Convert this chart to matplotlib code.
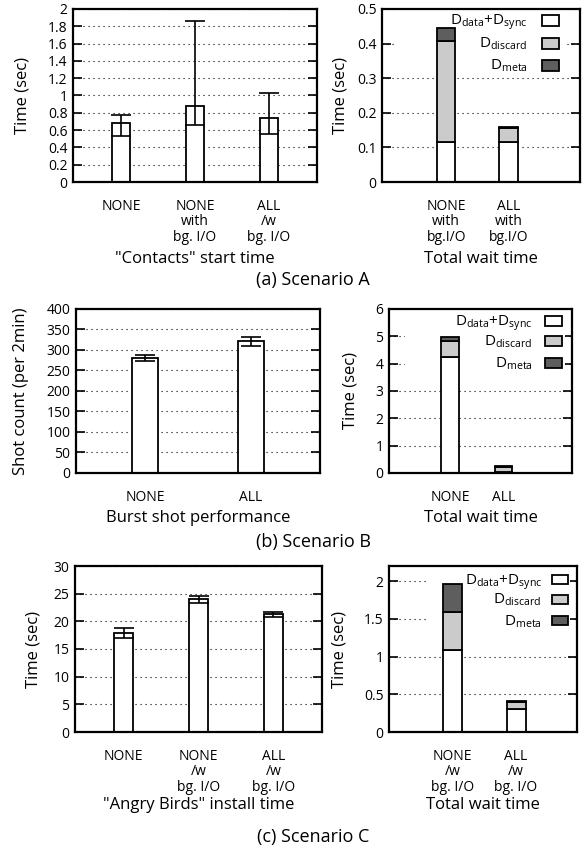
import numpy as np
import matplotlib
matplotlib.use("Agg")
import matplotlib.pyplot as plt
from matplotlib.patches import Rectangle
from matplotlib.ticker import FuncFormatter, MultipleLocator

plt.rcParams["font.family"] = ["Open Sans", "DejaVu Sans"]
plt.rcParams["mathtext.fontset"] = "custom"
plt.rcParams["mathtext.rm"] = "Open Sans"
plt.rcParams["mathtext.it"] = "Open Sans:italic"
plt.rcParams["mathtext.bf"] = "Open Sans:bold"

# ---- Scenario A ----
a_labels = ["NONE", "NONE\nwith\nbg. I/O", "ALL\n/w\nbg. I/O"]
a_time = [0.686, 0.882, 0.736]
a_low = [0.532, 0.659, 0.551]
a_high = [0.775, 1.860, 1.025]

a_wait_labels = ["NONE\nwith\nbg.I/O", "ALL\nwith\nbg.I/O"]
a_data_sync = [0.116, 0.116]
a_discard = [0.292, 0.039]
a_meta = [0.036, 0.003]

# ---- Scenario B ----
b_labels = ["NONE", "ALL"]
b_shots = [281, 321]
b_low = [272, 309]
b_high = [288, 331]

b_wait_labels = ["NONE", "ALL"]
b_data_sync = [4.26, 0.03]
b_discard = [0.58, 0.20]
b_meta = [0.15, 0.04]

# ---- Scenario C ----
c_labels = ["NONE", "NONE\n/w\nbg. I/O", "ALL\n/w\nbg. I/O"]
c_time = [17.84, 24.04, 21.33]
c_low = [16.93, 23.38, 20.85]
c_high = [18.74, 24.64, 21.75]

c_wait_labels = ["NONE\n/w\nbg. I/O", "ALL\n/w\nbg. I/O"]
c_data_sync = [1.09, 0.31]
c_discard = [0.50, 0.085]
c_meta = [0.37, 0.01]

key_labels = [r"D$_\mathregular{data}$+D$_\mathregular{sync}$",
              r"D$_\mathregular{discard}$",
              r"D$_\mathregular{meta}$"]
seg_colors = ["white", "#cbcbcb", "#5e5e5e"]

W, H = 586, 849
fig = plt.figure(figsize=(W / 100, H / 100), dpi=100)


def px_axes(x0, y0, x1, y1):
    return fig.add_axes([x0 / W, 1 - y1 / H, (x1 - x0) / W, (y1 - y0) / H])


def style(ax, ymax, ystep, ylabel, ylab_x, xlabel, xlab_y):
    ax.set_ylim(0, ymax)
    ax.yaxis.set_major_locator(MultipleLocator(ystep))
    ax.yaxis.set_major_formatter(FuncFormatter(lambda v, p: f"{v:g}"))
    ax.tick_params(axis="y", direction="in", length=6.5, width=1.2,
                   left=True, right=True, pad=4, labelsize=10)
    ax.tick_params(axis="x", length=0, pad=12, labelsize=10)
    for t in ax.get_xticklabels():
        t.set_linespacing(1.05)
    ax.yaxis.grid(True, ls=(0, (1, 3.5)), lw=0.8, color="black")
    ax.set_axisbelow(True)
    for s in ax.spines.values():
        s.set_linewidth(1.6)
    ax.set_ylabel(ylabel, fontsize=12, va="center")
    ax.yaxis.set_label_coords(ylab_x, 0.5)
    ax.set_xlabel(xlabel, fontsize=12, va="center")
    ax.xaxis.set_label_coords(0.5, xlab_y)


def bar_panel(ax, labels, vals, low, high):
    x = np.arange(len(vals))
    vals = np.asarray(vals, float)
    yerr = [vals - np.asarray(low), np.asarray(high) - vals]
    ax.bar(x, vals, width=0.25, color="white", edgecolor="black",
           lw=1.3, zorder=2)
    ax.errorbar(x, vals, yerr=yerr, fmt="none", ecolor="black",
                elinewidth=1.2, capsize=7, capthick=1.2, zorder=3)
    ax.set_xticks(x, labels)
    ax.set_xlim(-0.65, len(vals) - 0.35)


def stacked_panel(ax, labels, segs, xlim, width, key):
    x = np.arange(len(labels))
    bottom = np.zeros(len(labels))
    for vals, col in zip(segs, seg_colors):
        ax.bar(x, vals, width=width, bottom=bottom, color=col,
               edgecolor="black", lw=1.3, zorder=2)
        bottom += np.asarray(vals)
    ax.set_xticks(x, labels)
    ax.set_xlim(*xlim)
    # opaque key area
    (rx0, rx1, ry0), rows, text_x, box_x, box_w, box_h, ax_h = key
    ax.add_patch(Rectangle((rx0, ry0), rx1 - rx0, 1 - ry0,
                           transform=ax.transAxes, facecolor="white",
                           edgecolor="none", zorder=1.5))
    for ry, lab, col in zip(rows, key_labels, seg_colors):
        ax.add_patch(Rectangle((box_x, ry - box_h / 2), box_w, box_h,
                               transform=ax.transAxes, facecolor=col,
                               edgecolor="black", lw=1.3, zorder=4))
        ax.text(text_x, ry - 5.0 / ax_h, lab, transform=ax.transAxes,
                ha="right", va="baseline", fontsize=11, zorder=4)


# (a) Scenario A
axA1 = px_axes(73, 9, 317, 182)
bar_panel(axA1, a_labels, a_time, a_low, a_high)
style(axA1, 2, 0.2, "Time (sec)", -0.209, "\"Contacts\" start time", -0.445)

axA2 = px_axes(382, 9, 580, 182)
stacked_panel(axA2, a_wait_labels, [a_data_sync, a_discard, a_meta],
              (-1.03, 2.15), 0.3,
              ((0.066, 0.93, 0.62), (0.936, 0.803, 0.676), 0.737, 0.808,
               17 / 198, 11 / 173, 173))
style(axA2, 0.5, 0.1, "Time (sec)", -0.212, "Total wait time", -0.445)

# (b) Scenario B
axB1 = px_axes(76, 309, 320, 473)
bar_panel(axB1, b_labels, b_shots, b_low, b_high)
style(axB1, 400, 50, "Shot count (per 2min)", -0.225,
      "Burst shot performance", -0.274)

axB2 = px_axes(389, 309, 572, 473)
stacked_panel(axB2, b_wait_labels, [b_data_sync, b_discard, b_meta],
              (-1.14, 2.28), 0.33,
              ((0.087, 0.96, 0.616), (0.927, 0.805, 0.671), 0.784, 0.852,
               17 / 183, 10 / 164, 164))
style(axB2, 6, 1, "Time (sec)", -0.213, "Total wait time", -0.274)

# (c) Scenario C
axC1 = px_axes(75, 566, 322, 732)
bar_panel(axC1, c_labels, c_time, c_low, c_high)
style(axC1, 30, 5, "Time (sec)", -0.170,
      "\"Angry Birds\" install time", -0.440)

axC2 = px_axes(389, 566, 577, 732)
stacked_panel(axC2, c_wait_labels, [c_data_sync, c_discard, c_meta],
              (-1.0, 1.96), 0.3,
              ((0.207, 0.963, 0.614), (0.916, 0.801, 0.669), 0.814, 0.867,
               16 / 188, 9 / 166, 166))
style(axC2, 2.2, 0.5, "Time (sec)", -0.261, "Total wait time", -0.440)

# sub-figure captions
for text, py in [("(a) Scenario A", 280), ("(b) Scenario B", 542),
                 ("(c) Scenario C", 837)]:
    fig.text(313 / W, 1 - py / H, text, ha="center", va="center", fontsize=13)

fig.savefig("out.png", dpi=100)
